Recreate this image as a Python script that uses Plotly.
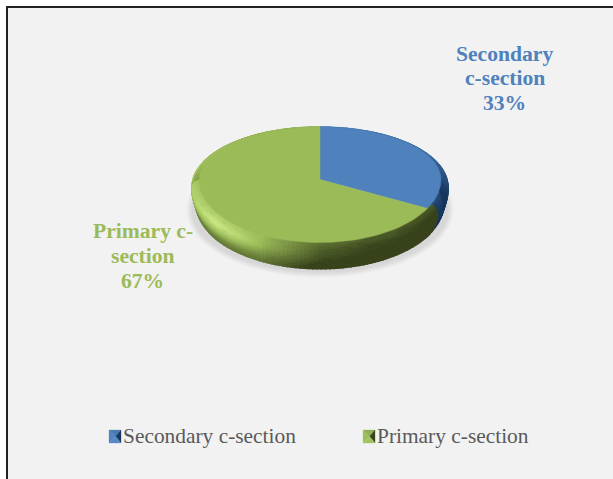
import numpy as np
import plotly.graph_objects as go

categories = ["Secondary c-section", "Primary c-section"]
shares = [32.6, 67.4]
label_lines = [["Secondary", "c-section"], ["Primary c-", "section"]]
base_colors = ["#4F81BD", "#9BBB59"]
dark_colors = ["#17375E", "#38431C"]
light_colors = ["#7FB0EA", "#D2F08A"]

CX, CY, RX, RY_BACK, RY_FRONT, DROP = 320, 179.5, 121, 52.5, 63, 25
SERIF = "Liberation Serif"

def hex2rgb(h):
    return np.array([int(h[i:i + 2], 16) for i in (1, 3, 5)], float)

def shade_color(i, s):
    s = float(np.clip(s, -1, 1))
    base, target = hex2rgb(base_colors[i]), hex2rgb(light_colors[i] if s > 0 else dark_colors[i])
    c = base + (target - base) * abs(s)
    return "rgb(%d,%d,%d)" % tuple(c.round())

T_KNOTS = [0, 0.12, 0.3, 0.5, 0.75, 1]
S_KNOTS = [1, 1.03, 1.055, 1.058, 1.04, 1.02]
H_KNOTS = [0, 0.08, 0.22, 0.42, 0.72, 1]
P_KNOTS = [0.25, 0.6, 1.0, 0.45, 0.1, 0.0]
D_KNOTS = [0, 0, 0, 0.2, 0.45, 0.6]
ANG_G = [110, 130, 160, 180, 192, 205, 222, 235, 250, 270, 300, 330, 360]
SHD_G = [-1.0, -1.0, -.95, -.8, -.45, -.1, .6, .85, .6, .35, .1, -.1, -.1]
ANG_B = [0, 30, 60, 80, 95, 120]
SHD_B = [-.1, -.2, -.3, -.6, -.85, -1.0]

def rim_pt(theta, t):
    th = np.radians(theta)
    s = np.interp(t, T_KNOTS, S_KNOTS)
    h = np.interp(t, T_KNOTS, H_KNOTS)
    c = np.cos(th)
    ry = RY_BACK if c > 0 else RY_FRONT
    return CX + RX * s * np.sin(th), CY - ry * s * c + DROP * h

def rim_shade(i, theta, t):
    a = np.interp(theta, ANG_B, SHD_B) if i == 0 else np.interp(theta, ANG_G, SHD_G)
    p = np.interp(t, T_KNOTS, P_KNOTS)
    d = np.interp(t, T_KNOTS, D_KNOTS)
    v = a * p if a > 0 else a * (0.7 + 0.3 * p)
    return v - d

def face_polygon(a0, a1):
    angs = np.linspace(a0, a1, 90)
    xs, ys = [CX], [CY]
    for a in angs:
        x, y = rim_pt(a, 0)
        xs.append(x); ys.append(y)
    xs.append(CX); ys.append(CY)
    return xs, ys

def rim_traces(i, a0, a1):
    groups = {}
    angs = np.arange(a0, a1 + 0.01, 2.0)
    ts = np.linspace(0, 1, 17)
    for a, b in zip(angs[:-1], angs[1:]):
        for u, v in zip(ts[:-1], ts[1:]):
            s = rim_shade(i, (a + b) / 2, (u + v) / 2)
            col = shade_color(i, round(s * 40) / 40)
            P = [rim_pt(a, u), rim_pt(b, u), rim_pt(b, v), rim_pt(a, v), rim_pt(a, u)]
            g = groups.setdefault(col, ([], []))
            g[0].extend([p[0] for p in P] + [None])
            g[1].extend([p[1] for p in P] + [None])
    return [go.Scatter(x=g[0], y=g[1], mode="lines", fill="toself", fillcolor=c,
                       line=dict(color=c, width=1.6), hoverinfo="skip", showlegend=False)
            for c, g in groups.items()]

fig = go.Figure()

for k in range(9):
    th = np.linspace(0, 2 * np.pi, 180)
    fig.add_trace(go.Scatter(x=320 + (134 - k * 0.7) * np.cos(th), y=210 + (68 - k * 0.7) * np.sin(th),
                             mode="lines", fill="toself", fillcolor="rgba(0,0,0,0.012)",
                             line=dict(width=0), hoverinfo="skip", showlegend=False))

angle = 3.6 * shares[0]
for tr in rim_traces(0, 0, 60) + rim_traces(0, 60, angle + 6):
    fig.add_trace(tr)
for tr in rim_traces(1, 270, 360) + rim_traces(1, angle - 4, 270):
    fig.add_trace(tr)

spans = [(0, angle), (angle, 360)]
for i, (a0, a1) in enumerate(spans):
    x, y = face_polygon(a0, a1)
    fig.add_trace(go.Scatter(x=x, y=y, mode="lines", fill="toself", fillcolor=base_colors[i],
                             line=dict(color=base_colors[i], width=0.5), name=categories[i],
                             showlegend=False, hoverinfo="name"))

key_x = [109, 363]
KEY_W, KEY_H = 12, 13
KEY_Y0 = 430
for i, x0 in enumerate(key_x):
    xc, yc = x0 + KEY_W * 0.55, KEY_Y0 + KEY_H / 2
    x1, y1 = x0 + KEY_W, KEY_Y0 + KEY_H
    tris = [
        ([x0, x1, xc], [KEY_Y0, KEY_Y0, yc], shade_color(i, -0.1)),
        ([x0, xc, x0], [KEY_Y0, yc, y1], shade_color(i, 0.05)),
        ([x1, xc, x1], [KEY_Y0, yc, y1], shade_color(i, -1.0)),
        ([x0, x1, xc], [y1, y1, yc], shade_color(i, 0.15)),
    ]
    for tx, ty, c in tris:
        fig.add_trace(go.Scatter(x=tx + tx[:1], y=ty + ty[:1], mode="lines", fill="toself", fillcolor=c,
                                 line=dict(color=c, width=0.3), hoverinfo="skip", showlegend=False))

notes = []
label_x = [504.5, 142.5]
label_y = [[53.5, 78, 102.5], [230.5, 255.5, 280.5]]
for i, lx in enumerate(label_x):
    for line, ly in zip(label_lines[i] + [f"{shares[i]:.0f}%"], label_y[i]):
        notes.append(dict(x=lx, y=ly, xref="x", yref="y", text="<b>" + line + "</b>", showarrow=False,
                          xanchor="center", yanchor="middle", align="center",
                          font=dict(family=SERIF, size=21.6, color=base_colors[i])))
for i, x0 in enumerate(key_x):
    notes.append(dict(x=x0 + 12, y=436, xref="x", yref="y", text=categories[i], showarrow=False, xanchor="left",
                      yanchor="middle", font=dict(family=SERIF, size=21.4, color="#595959")))

fig.update_layout(
    width=613, height=479, margin=dict(l=0, r=0, t=0, b=0), paper_bgcolor="white", plot_bgcolor="white",
    xaxis=dict(range=[0, 613], visible=False, fixedrange=True),
    yaxis=dict(range=[479, 0], visible=False, fixedrange=True),
    annotations=notes, showlegend=False,
    shapes=[dict(type="rect", xref="x", yref="y", x0=7, y0=7, x1=700, y1=600, fillcolor="#F2F2F2",
                 line=dict(color="#222222", width=2), layer="below")],
)
fig.write_html("out.html", config=dict(displayModeBar=False),
               post_script="document.body.style.margin='0';document.body.style.overflow='hidden';")
